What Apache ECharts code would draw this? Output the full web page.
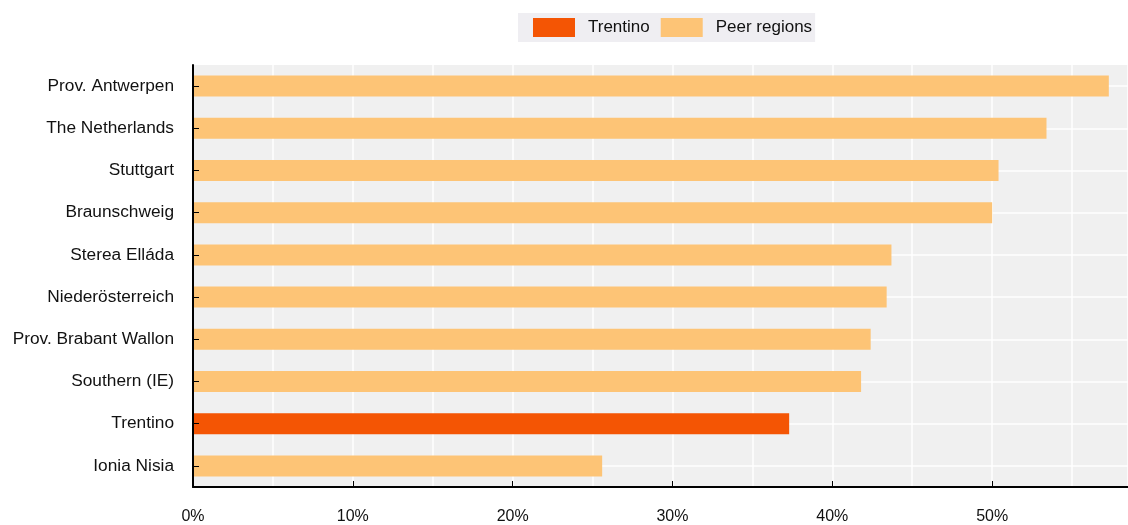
<!DOCTYPE html>
<html>
<head>
<meta charset="utf-8">
<script src="https://cdn.jsdelivr.net/npm/echarts@6/dist/echarts.min.js"></script>
<style>html,body{margin:0;padding:0;background:#fff}#c{width:1128px;height:525px}</style>
</head>
<body>
<div id="c"></div>
<script>
const categories = ["Prov. Antwerpen","The Netherlands","Stuttgart","Braunschweig","Sterea Elláda","Niederösterreich","Prov. Brabant Wallon","Southern (IE)","Trentino","Ionia Nisia"];
const values = [57.3, 53.4, 50.4, 50.0, 43.7, 43.4, 42.4, 41.8, 37.3, 25.6];
const highlight = "Trentino";
const tickLabels = [0, 10, 20, 30, 40, 50];

const trentinoData = values.map((v, i) => categories[i] === highlight ? v : '-');
const peerData = values.map((v, i) => categories[i] === highlight ? '-' : v);

const chart = echarts.init(document.getElementById('c'));
chart.setOption({
  animation: false,
  textStyle: { fontFamily: 'Liberation Sans, Arial, sans-serif' },
  legend: {
    left: 518, top: 13,
    backgroundColor: '#efeef2',
    padding: [5, 3, 5, 15],
    itemWidth: 42, itemHeight: 19, itemGap: 11,
    icon: 'rect',
    textStyle: { fontSize: 17, color: '#111', padding: [0, 0, 0, 8] },
    data: ['Trentino', 'Peer regions']
  },
  grid: { left: 193, right: 0, top: 65, bottom: 36, show: true, backgroundColor: '#f0f0f0', borderWidth: 0 },
  xAxis: [{
    type: 'value', min: 0, max: 58.5, interval: 5, position: 'bottom', z: 0,
    axisLine: { show: false }, axisTick: { show: false }, axisLabel: { show: false },
    splitLine: { show: true, lineStyle: { color: '#fff', width: 1.5 } }
  }, {
    type: 'value', min: 0, max: 58.5, interval: 5, position: 'bottom', offset: 0, z: 5,
    axisLine: { show: true, lineStyle: { color: '#000', width: 2 } },
    axisTick: { show: true, inside: true, length: 6, customValues: tickLabels, lineStyle: { color: '#000' } },
    axisLabel: { customValues: tickLabels, formatter: v => v + '%', fontSize: 16, color: '#111', margin: 22 },
    splitLine: { show: false }
  }],
  yAxis: [{
    type: 'category', data: categories, inverse: true, position: 'left', z: 0,
    axisLine: { show: false },
    axisTick: { show: false },
    axisLabel: { show: false },
    splitLine: { show: true, interval: 0, alignWithLabel: true, lineStyle: { color: '#fff', width: 1.5 } }
  }, {
    type: 'category', data: categories, inverse: true, position: 'left', offset: 0, z: 5,
    axisLine: { show: true, lineStyle: { color: '#000', width: 2 } },
    axisTick: { show: true, inside: true, length: 6, alignWithLabel: true, lineStyle: { color: '#000' } },
    axisLabel: { fontSize: 17.3, color: '#111', margin: 19 },
    splitLine: { show: false }
  }],
  series: [
    { name: 'Trentino', type: 'bar', stack: 's', xAxisIndex: 0, yAxisIndex: 0, data: trentinoData, barWidth: 21, itemStyle: { color: '#f45504' } },
    { name: 'Peer regions', type: 'bar', stack: 's', xAxisIndex: 0, yAxisIndex: 0, data: peerData, barWidth: 21, itemStyle: { color: '#fdc476' } }
  ]
});
</script>
</body>
</html>
